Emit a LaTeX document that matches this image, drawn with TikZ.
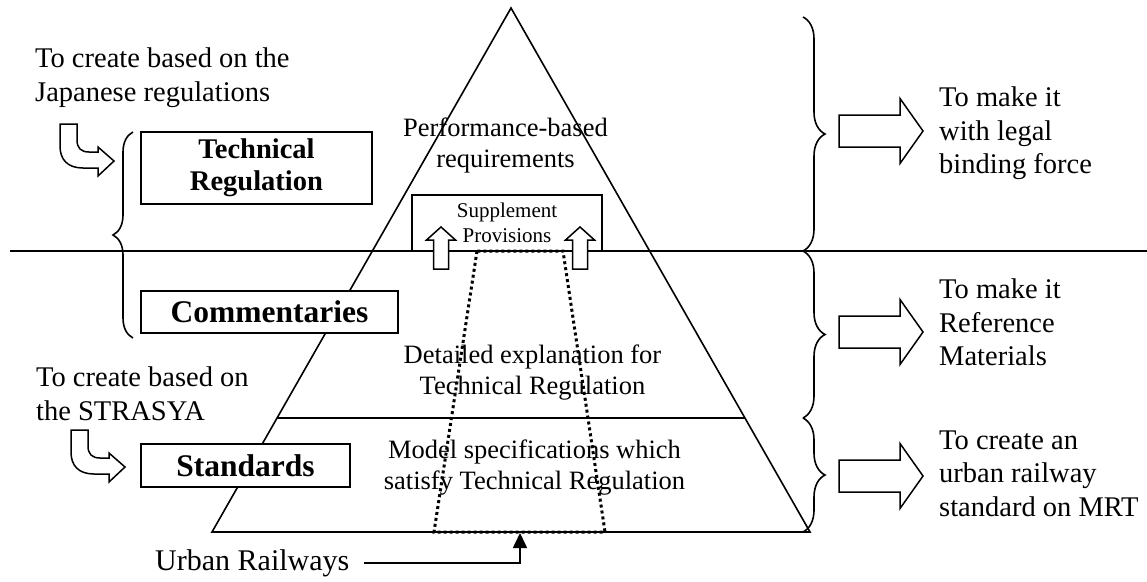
\documentclass[tikz,border=0pt]{standalone}
\usepackage{fontspec}
\setmainfont{Liberation Serif}
\usetikzlibrary{arrows.meta,positioning,calc,decorations.pathreplacing}

\tikzset{
  outline/.style={line width=1.6pt},
  labelbox/.style={draw, line width=1.6pt, fill=white, inner sep=0pt, align=center},
  sidetext/.style={anchor=west, align=left, inner sep=0pt, font=\fontsize{28.5}{33.5}\selectfont},
  innertext/.style={align=center, inner sep=0pt, font=\fontsize{26.5}{31}\selectfont},
  curly/.style={decorate, decoration={brace, amplitude=#1}, line width=1.6pt},
  rblock/.pic={\draw[line width=1.5pt, fill=white] (0,-16) -- (61,-16) -- (61,-32.5) -- (84,0)
    -- (61,32.5) -- (61,16) -- (0,16) -- cycle;},
  upblock/.pic={\draw[line width=1.5pt, fill=white] (-7.5,0) -- (-7.5,-29) -- (-14.5,-29) -- (0,-42)
    -- (14.5,-29) -- (7.5,-29) -- (7.5,0) -- cycle;},
  bentblock/.pic={\draw[line width=1.5pt, fill=white] (0,0) -- (17,0) -- (17,16)
    .. controls (17,24) and (21,28) .. (29,28) -- (38,28) -- (38,23) -- (54,37) -- (38,52)
    -- (38,44) -- (23,44) .. controls (8,44) and (0,36) .. (0,22) -- cycle;}
}

\begin{document}
\begin{tikzpicture}[x=1pt, y=-1pt, >=Stealth]
  \useasboundingbox (0,0) rectangle (1147,581);

  % Dividing line
  \draw[outline] (10,251) -- (1147,251);

  % Pyramid
  \coordinate (apex) at (511,8);
  \coordinate (bl) at (212,532);
  \coordinate (br) at (810,532);
  \draw[outline, line join=miter] (apex) -- (bl) -- (br) -- cycle;
  \draw[outline] ($(apex)!0.782!(bl)$) -- ($(apex)!0.782!(br)$);

  % Supplement provisions
  \node[draw, outline, minimum width=190pt, minimum height=56pt, inner sep=0pt, align=center,
    font=\fontsize{21}{25}\selectfont] (supp) at (507,223) {Supplement\\Provisions};
  \foreach \x in {441,580}
    \pic at (\x,269) {upblock};

  % Urban railways range
  \draw[line width=3pt, dash pattern=on 3pt off 3pt] (477,251) -- (434,532) -- (605,532) -- (563,251) -- cycle;

  % Texts in the pyramid
  \node[innertext] (perf) at (505.5,145) {Performance-based\\requirements};
  \node[innertext] (detail) at (532.5,372.5) {Detailed explanation for\\Technical Regulation};
  \node[innertext] (model) at (534.5,468) {Model specifications which\\satisfy Technical Regulation};

  % Boxes
  \node[labelbox, minimum width=231pt, minimum height=72pt,
    font=\fontsize{28.5}{32}\selectfont\bfseries] (techreg) at (256.5,168) {Technical\\Regulation};
  \node[labelbox, minimum width=257pt, minimum height=42pt,
    font=\fontsize{31.5}{36}\selectfont\bfseries] (comm) at (269.5,312) {Commentaries};
  \node[labelbox, minimum width=209pt, minimum height=43pt,
    font=\fontsize{31.5}{36}\selectfont\bfseries] (stds) at (245.5,465.5) {Standards};

  % Left side
  \node[sidetext] (japan) at (35,77.5) {To create based on the\\Japanese regulations};
  \node[sidetext] (strasya) at (36,393.5) {To create based on\\the STRASYA};
  \pic at (60,124) {bentblock};
  \pic at (71,430) {bentblock};
  \draw[curly=20pt] (133,338) -- (133,132);

  % Right side
  \foreach \top/\bot in {17/251, 251/418, 418/532}
    \draw[curly=22pt] (803,\top) -- (803,\bot);
  \foreach \y in {131,332,476}
    \pic at (839,\y) {rblock};
  \node[sidetext] (legal) at (939,133.5) {To make it\\with legal\\binding force};
  \node[sidetext] (refmat) at (939,322.5) {To make it\\Reference\\Materials};
  \node[sidetext] (mrt) at (939,473.5) {To create an\\urban railway\\standard on MRT};

  % Urban railways
  \node[anchor=west, inner sep=0pt, font=\fontsize{30}{36}\selectfont] (urban) at (155,563) {Urban Railways};
  \coordinate (railtip) at (520,533);
  \draw[outline, -{Triangle[length=15pt,width=14pt]}] ([xshift=14pt]urban.east) -| (railtip);
\end{tikzpicture}
\end{document}
